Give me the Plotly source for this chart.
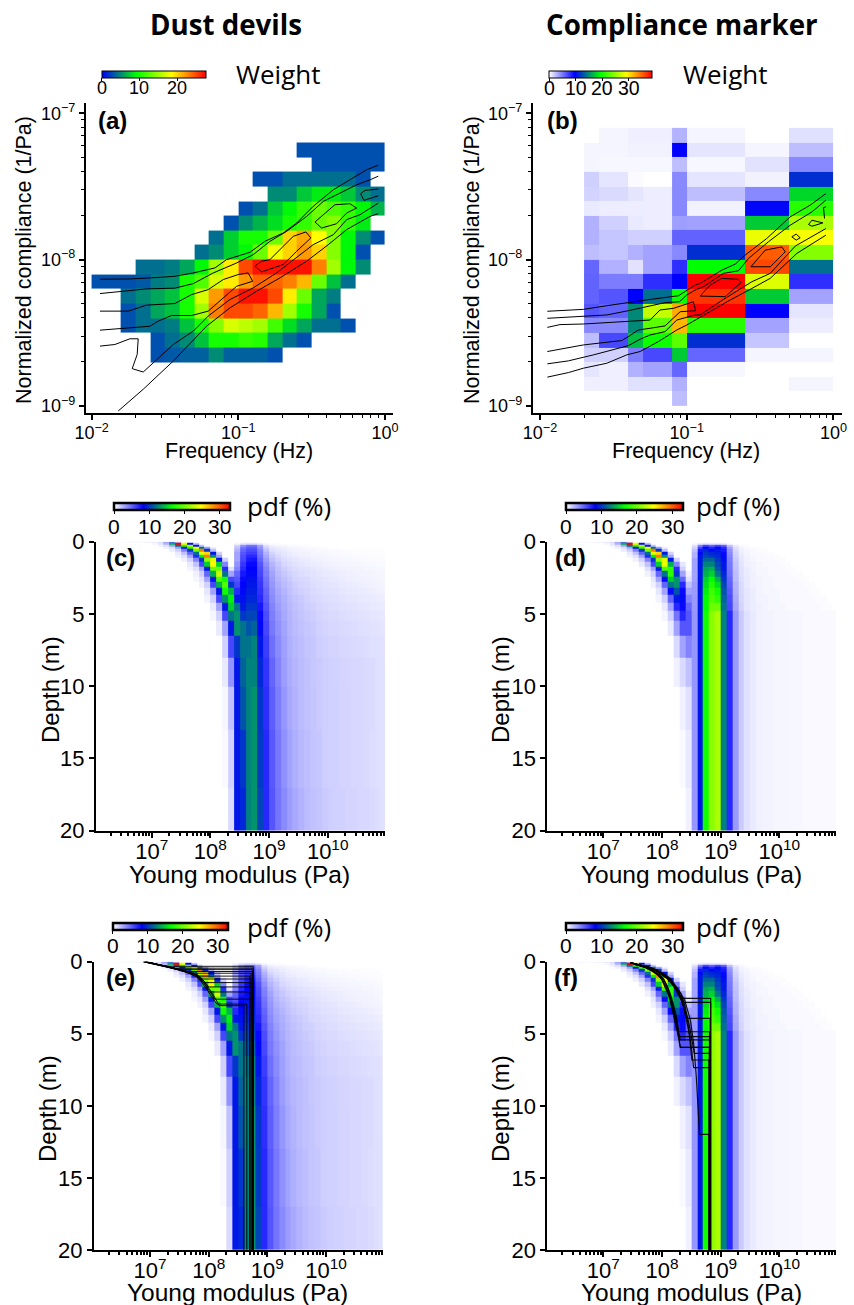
import plotly.graph_objects as go

W, H = 854, 1305

# ---------- panel (a): weights ----------
A_FREQ_LOG = [-2.0,-1.9,-1.8,-1.7,-1.6,-1.5,-1.4,-1.3,-1.2,-1.1,-1.0,-0.9,-0.8,-0.7,-0.6,-0.5,-0.4,-0.3,-0.2,-0.1,0.0]
A_COMP_LOG = [-7.2,-7.3,-7.4,-7.5,-7.6,-7.7,-7.8,-7.9,-8.0,-8.1,-8.2,-8.3,-8.4,-8.5,-8.6,-8.7]
A_ROWS = [
 (14,[2.9,2.9,2.9,2.9,2.9,2.9]),
 (15,[2.9,2.9,2.9,2.9,2.9]),
 (11,[2.9,2.9,4,4,4,4,4,2.9]),
 (12,[5,5,7.2,8.5,8.5,7.2,5,4]),
 (10,[2.9,4,7.2,9,11,13,12,11,9,6.5]),
 (9,[2.9,5,6.5,8,10,11,13,14,11,8.5]),
 (8,[4,7.5,10,10,13,20,21.5,18.4,14,9,5,2.9]),
 (7,[4,5,7.5,9,13,18,20,22,20,14,9,2.9]),
 (3,[4,4,4.5,6,9,15,19,25,27,27,27,27,23,15,9,5]),
 (0,[2.9,2.9,2.9,3.2,4.5,5,10,12,17,19,22,24,24,23,21,13,7,4]),
 (2,[4,5,6,7,10,17,22,25,27,27,25,19,13,6,4.5]),
 (2,[2.9,4,6,7,10,15,23,25,25,24,21,15,10,6,2.9]),
 (2,[2.9,4,4,4.5,7,10,14,17,16,15,11.5,8,6,4,4,2.9]),
 (4,[2.9,4,5,7,10,10,11,10.5,6,4,2.9]),
 (4,[2.9,3.2,3.5,3.5,5,3.5,3.5,3.5,2.9]),
]
A_CONTOURS = [
 ([-1.943,-1.739,-1.602,-1.432,-1.307,-1.159,-1.08,-0.92,-0.818,-0.693,-0.602,-0.489,-0.352,-0.205,-0.125,-0.045],
  [-8.134,-8.132,-8.125,-8.114,-8.091,-8.057,-8.0,-7.95,-7.875,-7.818,-7.75,-7.636,-7.523,-7.436,-7.386,-7.355]),
 ([-1.943,-1.784,-1.625,-1.432,-1.307,-1.17,-1.011,-0.898,-0.784,-0.67,-0.534,-0.42,-0.33,-0.193,-0.102,-0.045],
  [-8.232,-8.216,-8.2,-8.195,-8.164,-8.091,-8.023,-7.966,-7.875,-7.807,-7.705,-7.602,-7.557,-7.489,-7.455,-7.43]),
 ([-1.943,-1.75,-1.625,-1.432,-1.318,-1.205,-1.102,-1.0,-0.932,-0.902,-1.011,-1.091,-1.205,-1.318,-1.455,-1.545,-1.602,-1.739,-1.943],
  [-8.352,-8.352,-8.311,-8.3,-8.239,-8.205,-8.136,-8.102,-8.091,-8.148,-8.182,-8.25,-8.352,-8.382,-8.382,-8.42,-8.455,-8.466,-8.482]),
 ([-0.886,-0.841,-0.784,-0.693,-0.625,-0.539,-0.505,-0.602,-0.693,-0.841,-0.886],
  [-8.045,-8.011,-8.0,-7.909,-7.841,-7.811,-7.852,-7.943,-8.034,-8.084,-8.045]),
 ([-0.477,-0.341,-0.239,-0.193,-0.261,-0.33,-0.432,-0.477],
  [-7.743,-7.625,-7.618,-7.648,-7.682,-7.755,-7.784,-7.743]),
 ([-0.045,-0.136,-0.166,-0.143,-0.045],
  [-7.518,-7.527,-7.55,-7.595,-7.564]),
 ([-1.943,-1.841,-1.739,-1.682,-1.689,-1.723,-1.648,-1.443,-1.307,-1.205,-1.057,-0.898,-0.739,-0.625,-0.489,-0.352,-0.261,-0.17,-0.045],
  [-8.591,-8.58,-8.541,-8.541,-8.648,-8.745,-8.768,-8.58,-8.489,-8.386,-8.273,-8.193,-8.091,-8.0,-7.898,-7.83,-7.727,-7.693,-7.614]),
 ([-1.818,-1.648,-1.443,-1.216,-1.057,-0.875,-0.716,-0.534,-0.386,-0.261,-0.102,-0.045],
  [-9.034,-8.886,-8.693,-8.455,-8.33,-8.216,-8.125,-8.011,-7.898,-7.795,-7.705,-7.686]),
]

# ---------- panel (b): weights ----------
B_FREQ_LOG = [-1.7,-1.6,-1.4,-1.3,-1.1,-1.0,-0.6,-0.3,0.0]
B_COMP_LOG = [-7.1,-7.2,-7.3,-7.4,-7.5,-7.6,-7.7,-7.8,-7.9,-8.0,-8.1,-8.2,-8.3,-8.4,-8.5,-8.6,-8.7,-8.8,-8.9,-9.0]
B_VALUES = [
 [0,.4,.6,.6,2.9,.4,0,1.2],
 [.4,.4,.5,.5,9.75,1.0,.4,2.5],
 [.4,.3,.3,.3,2.5,.3,1.1,4.5],
 [1.8,1.0,.2,0,4.5,1,.5,11.5],
 [1.7,1.4,1.0,.7,4.5,2.5,4.5,18],
 [.8,.7,.7,.7,4.6,.5,10,21],
 [3,1.8,.8,.7,3.7,3.6,17.5,26],
 [3,2.2,1.8,1.8,6,6,28.5,29],
 [2.5,2.2,3,3.5,4.5,11.5,35.5,24.5],
 [5.9,3,1.1,3.5,8,19.5,36.3,14],
 [6,5,5,8,9.75,39,28,8],
 [6,6.5,9.75,14,20,37,17.5,3.5],
 [6.5,6,15,27,32.5,39,9.75,1],
 [4.5,4.5,15,23,32,21,3.5,.7],
 [2.5,7,17,20,23,11.5,2.2,0],
 [1.8,1.8,5,7,17.5,5.9,.4,.4],
 [1,.6,3,3.5,5.9,.3,0,0],
 [.6,.6,1.2,1.2,3,0,0,.4],
 [0,0,0,0,2.5,0,0,0],
]
B_CONTOURS = [
 ([-1.95,-1.807,-1.705,-1.545,-1.398,-1.25,-1.057,-1.0,-0.943,-0.909,-0.761,-0.67,-0.602,-0.455,-0.295,-0.159,-0.052],
  [-8.353,-8.344,-8.34,-8.315,-8.292,-8.272,-8.247,-8.208,-8.174,-8.163,-8.072,-8.031,-7.969,-7.856,-7.708,-7.628,-7.549]),
 ([-1.95,-1.705,-1.545,-1.398,-1.25,-1.148,-1.05,-1.0,-0.943,-0.886,-0.75,-0.647,-0.579,-0.443,-0.295,-0.147,-0.052],
  [-8.401,-8.39,-8.378,-8.349,-8.315,-8.294,-8.288,-8.242,-8.208,-8.185,-8.094,-8.076,-7.992,-7.878,-7.765,-7.674,-7.594]),
 ([-1.95,-1.864,-1.705,-1.545,-1.386,-1.25,-1.182,-1.091,-0.955,-0.939,-1.045,-1.102,-1.148,-1.25,-1.33,-1.398,-1.443,-1.705,-1.95],
  [-8.463,-8.444,-8.44,-8.431,-8.424,-8.413,-8.344,-8.333,-8.288,-8.349,-8.356,-8.413,-8.453,-8.469,-8.481,-8.526,-8.553,-8.583,-8.628]),
 ([-0.909,-0.84,-0.761,-0.647,-0.631,-0.738,-0.909],[-8.249,-8.174,-8.128,-8.135,-8.158,-8.253,-8.249]),
 ([-0.563,-0.465,-0.352,-0.329,-0.431,-0.563],[-8.049,-7.935,-7.913,-7.947,-8.049,-8.049]),
 ([-0.284,-0.254,-0.227,-0.254,-0.284],[-7.844,-7.826,-7.851,-7.867,-7.844]),
 ([-0.17,-0.147,-0.072,-0.147,-0.17],[-7.76,-7.731,-7.749,-7.772,-7.76]),
 ([-0.052,-0.068,-0.061],[-7.64,-7.644,-7.719]),
 ([-1.95,-1.807,-1.636,-1.545,-1.398,-1.318,-1.25,-1.148,-1.068,-0.943,-0.909,-0.75,-0.556,-0.431,-0.261,-0.052],
  [-8.712,-8.692,-8.651,-8.628,-8.588,-8.544,-8.515,-8.492,-8.413,-8.378,-8.378,-8.272,-8.151,-8.094,-7.908,-7.788]),
 ([-1.95,-1.807,-1.705,-1.545,-1.409,-1.318,-1.193,-1.068,-1.0,-0.909,-0.704,-0.556,-0.431,-0.25,-0.052],
  [-8.803,-8.772,-8.742,-8.708,-8.651,-8.628,-8.56,-8.481,-8.447,-8.394,-8.276,-8.197,-8.128,-7.958,-7.833]),
]

# ---------- panels (c)-(f): pdf, columns are 0.1 decade bins from 10^6 ----------
PDF_E_LOG = [6.0,6.1,6.2,6.3,6.4,6.5,6.6,6.7,6.8,6.9,7.0,7.1,7.2,7.3,7.4,7.5,7.6,7.7,7.8,7.9,8.0,8.1,8.2,8.3,8.4,8.5,8.6,8.7,8.8,8.9,
             9.0,9.1,9.2,9.3,9.4,9.5,9.6,9.7,9.8,9.9,10.0,10.1,10.2,10.3,10.4,10.5,10.6,10.7,10.8,10.9,11.0]
PDF_DEPTH = [0,.1,.2,.35,.5,.7,.9,1.1,1.4,1.7,2,2.4,2.8,3.2,3.7,4.2,4.8,5.5,6.5,8,10,13,17,20]

RIDGE_C = [
 (4,[.2,.2,.3,.3,.4,.5,.7,1.2,3,5,2]),
 (10,[.3,.8,2.5,14,33,25,8,2]),
 (11,[.5,1,3,12,18,22,9,2]),
 (12,[.5,1,3,9,18,25,12,3,.5]),
 (13,[.6,1.5,4,10,20,29,10,2]),
 (14,[.7,2,5,12,24,26,9,1.5]),
 (14,[.4,1,3,7,16,29,13,3]),
 (15,[.5,1.5,4,10,21,24,9,1.5]),
 (16,[.7,2,6,15,25,15,4]),
 (16,[.4,1,3,9,20,20,7,1]),
 (17,[.5,1.5,5,14,23,12,3]),
 (17,[.3,.8,3,9,19,17,6,2]),
 (18,[.5,1.5,6,14,19,10,3]),
 (19,[.8,3,9,17,14,6]),
 (19,[.4,1.5,6,13,16,9]),
 (20,[.7,3,9,15,12]),
 (20,[.3,1.5,6,12,13,10]),
 (21,[.7,3,9,13,12]),
 (22,[1.5,6,10,12]),
 (22,[.7,3.5,9,11.5]),
 (22,[.3,2,9,11]),
 (22,[.2,1.5,9,10]),
 (23,[1.2,9,9.5]),
]
BAND_C = [  # from column 24
 [],
 [.3,.8,1,1,.6,.3,.1,.1],
 [1.5,3.5,4.5,4.5,3,1,.5,.3,.3,.2,.2,.1,.1],
 [2,4.5,5.3,5.3,3.5,1.5,.8,.6,.5,.4,.3,.3,.2,.2,.1,.1],
 [2.5,5,5.8,5.8,4,2,1,.8,.6,.5,.4,.35,.3,.25,.2,.2,.15,.15,.1,.1,.1,.1,.05,.05,.05,.05],
 [3,5.5,6.3,6.3,4.3,2.5,1.4,1,.8,.6,.5,.45,.4,.3,.3,.25,.2,.2,.15,.15,.1,.1,.1,.1,.1,.05],
 [3,5.8,7,7,4.6,2.8,1.7,1.2,.9,.7,.6,.5,.45,.4,.35,.3,.25,.25,.2,.2,.15,.15,.1,.1,.1,.1],
 [3,6,7.4,7.6,5,3.2,2,1.5,1.1,.9,.8,.7,.6,.5,.45,.4,.35,.3,.3,.25,.25,.2,.2,.15,.15,.1],
 [3.5,6.5,8,8,5.5,3.6,2.4,1.8,1.3,1.1,.9,.8,.7,.6,.55,.5,.45,.4,.35,.35,.3,.3,.25,.25,.2,.2],
 [4,7,8.3,8.3,5.8,4,2.7,2,1.6,1.3,1.1,1,.9,.8,.7,.6,.55,.5,.45,.4,.4,.35,.3,.3,.25,.25],
 [5,7.5,8.5,8.5,6,4.2,3,2.2,1.8,1.5,1.3,1.1,1,.9,.8,.7,.65,.6,.55,.5,.45,.4,.4,.35,.3,.3],
 [5.5,8,8.8,8.8,6.3,4.5,3.2,2.4,2,1.7,1.4,1.3,1.2,1,.9,.8,.75,.7,.6,.55,.5,.45,.45,.4,.35,.3],
 [6,8.3,9,9,6.5,4.7,3.4,2.6,2.2,1.9,1.6,1.4,1.3,1.1,1,.9,.85,.8,.7,.65,.6,.55,.5,.45,.4,.35],
 [7,8.5,9.2,9.2,6.7,5,3.6,2.8,2.4,2,1.7,1.5,1.4,1.2,1.1,1,.95,.9,.8,.75,.7,.65,.6,.55,.5,.45],
 [8,8.8,9.5,9.5,7,5.2,3.8,3,2.6,2.2,1.9,1.7,1.5,1.3,1.2,1.1,1.05,1,.9,.85,.8,.75,.7,.65,.6,.55],
 [9,9,10,10,7.5,5.5,4,3.2,2.7,2.3,2,1.8,1.6,1.5,1.3,1.2,1.1,1.1,1,.95,.9,.85,.8,.75,.7,.65],
 [9,9.5,10.5,10.5,8,5.8,4.2,3.4,2.8,2.4,2.1,1.9,1.7,1.6,1.4,1.3,1.2,1.2,1.1,1.05,1,.95,.9,.85,.8,.75],
 [9,10,11,11.5,8.5,6,4.4,3.6,3,2.5,2.2,2,1.8,1.7,1.5,1.4,1.3,1.3,1.2,1.15,1.1,1.05,1,.95,.9,.85],
 [9,10.5,12,12.5,9,6.3,4.7,3.8,3.1,2.6,2.3,2.1,1.9,1.8,1.6,1.5,1.4,1.4,1.3,1.25,1.2,1.15,1.1,1.05,1,.95],
 [9,11.5,12.5,12.5,9.5,6.6,5,4,3.2,2.7,2.4,2.2,2,1.8,1.7,1.6,1.5,1.45,1.4,1.35,1.3,1.25,1.2,1.15,1.05,1],
 [9,10,12.5,13,10,6.8,5.2,4.2,3.4,2.8,2.5,2.2,2,1.9,1.7,1.6,1.5,1.5,1.4,1.4,1.3,1.3,1.2,1.15,1.05,1],
 [9,9.8,12.5,13,10.2,7,5.4,4.4,3.6,3,2.6,2.3,2.1,1.9,1.8,1.6,1.5,1.5,1.4,1.4,1.3,1.3,1.2,1.1,1.05,1],
 [9,9.5,12.5,13,10.5,7,5.5,4.5,3.8,3.2,2.8,2.5,2.2,2,1.9,1.7,1.6,1.5,1.5,1.4,1.4,1.3,1.3,1.2,1.1,1],
]
RIDGE_D = RIDGE_C[:8] + [
 (16,[.7,2,6,15,24,14,4,.8]),
 (17,[1,3,9,19,18,7,1.5]),
 (17,[.5,1.5,5,12,18,10,3,.5]),
 (18,[.8,3,8,15,13,5,1]),
 (18,[.5,1.5,5,12,13,7,2]),
 (19,[.8,3,8,11,8,3]),
 (19,[.4,1.5,5,9,8.5,4]),
 (20,[.7,3,7,8,5]),
 (20,[.3,1.5,4.5,7,5.5,2]),
 (21,[.7,3,5.5,5.5,3]),
 (22,[1.2,3,4,3.4]),
 (22,[.5,1.2,2,3.4]),
 (23,[.5,1,3.4]),
 (23,[.2,.7,3.4]),
 (24,[.5,3.4]),
]
BAND_D = [  # from column 25
 [],
 [.2,.6,.8,.7,.7,.6,.2],
 [1,4,6,5,6,5,2,.6,.2,.1],
 [1.5,6,8.5,7,8.5,7,3,1,.4,.2,.1,.1],
 [2,7.5,9.5,8.5,9,7.5,3.5,1.2,.5,.3,.2,.1,.1],
 [2.5,8.5,10,9.5,9.3,8,3.8,1.4,.6,.4,.2,.2,.1,.1],
 [2.5,9,10.5,10,9.5,8.5,4,1.5,.7,.4,.3,.2,.2,.1,.1],
 [3,9,11.5,11.5,10,8.7,4.2,1.7,.8,.5,.3,.2,.2,.2,.1,.1],
 [3,9,12.5,12.5,10.5,9,4.4,1.9,.9,.5,.4,.3,.2,.2,.2,.1,.1],
 [3,9,13.5,14,11,9,4.5,2,1,.6,.4,.3,.3,.2,.2,.2,.1,.1],
 [3,9,14,15,12,9.5,4.7,2.1,1,.6,.5,.3,.3,.2,.2,.2,.2,.1,.1],
 [3,9,15,16.5,14,10,5,2.2,1.1,.7,.5,.4,.3,.3,.2,.2,.2,.2,.1,.1],
 [3.2,9,15.5,17.5,15.5,10.5,5.2,2.4,1.2,.7,.5,.4,.3,.3,.2,.2,.2,.2,.2,.1,.1],
 [3.2,9,16,18.5,17,11,5.5,2.5,1.2,.8,.6,.4,.3,.3,.3,.2,.2,.2,.2,.2,.1,.1],
 [3.3,9,16.5,19,18,11.5,5.8,2.7,1.3,.8,.6,.4,.4,.3,.3,.2,.2,.2,.2,.2,.2,.1,.1],
 [3.3,9,16.5,20,20,12,6,2.8,1.4,.8,.6,.5,.4,.3,.3,.3,.2,.2,.2,.2,.2,.2,.1,.1],
 [3.4,9,17,21,22,12.5,7,3.3,1.7,1,.7,.5,.4,.4,.3,.3,.3,.25,.25,.2,.2,.2,.2,.2,.2],
 [3.4,9,17,21,22,12.5,7,3.3,1.7,1,.7,.5,.4,.4,.3,.3,.3,.25,.25,.2,.2,.2,.2,.2,.2],
 [3.4,9,17,21,22,12.5,7,3.3,1.7,1,.7,.5,.4,.4,.3,.3,.3,.25,.25,.2,.2,.2,.2,.2,.2],
 [3.4,9,17,21,22,12.5,7,3.3,1.7,1,.7,.5,.4,.4,.3,.3,.3,.25,.25,.2,.2,.2,.2,.2,.2],
 [3.4,9,17,21,22,12.5,7,3.3,1.7,1,.7,.5,.4,.4,.3,.3,.3,.25,.25,.2,.2,.2,.2,.2,.2],
 [3.4,9,17,21,22,12.5,7,3.3,1.7,1,.7,.5,.4,.4,.3,.3,.3,.25,.25,.2,.2,.2,.2,.2,.2],
 [3.4,9,17,21,22,12.5,7,3.3,1.7,1,.7,.5,.4,.4,.3,.3,.3,.25,.25,.2,.2,.2,.2,.2,.2],
]

# best-fitting profiles drawn over (e)
E_NODES = [0,.12,.23,.35,.58,.75,.92,1.25,1.62,2,2.31,2.94]
E_KNEES = [.32,.45,.55,.68,.8,1.0,1.2,1.45,1.75,2.1,2.6,2.94,3.05]
E_HALF = [8.76,8.76,8.74,8.75,8.72,8.70,8.76,8.74,8.76,8.70,8.76,8.65,8.60]
E_PROFILES = [
 [6.93,7.06,7.17,7.34],
 [6.90,7.03,7.14,7.29,7.42],
 [6.92,7.06,7.16,7.32,7.5],
 [6.88,7.02,7.13,7.27,7.5,7.6],
 [6.94,7.07,7.18,7.33,7.55,7.68],
 [6.9,7.04,7.14,7.29,7.5,7.64,7.76],
 [6.92,7.06,7.17,7.32,7.54,7.68,7.79,7.88],
 [6.89,7.03,7.13,7.28,7.5,7.64,7.76,7.85,7.92],
 [6.93,7.07,7.17,7.33,7.55,7.69,7.81,7.9,7.97,8.0],
 [6.91,7.04,7.15,7.3,7.52,7.66,7.78,7.87,7.94,8.0],
 [6.92,7.06,7.16,7.31,7.53,7.67,7.79,7.88,7.95,8.01,8.06,8.1],
 [6.89,7.03,7.14,7.28,7.5,7.64,7.76,7.85,7.92,7.98,8.03,8.14],
 [6.93,7.07,7.18,7.33,7.55,7.69,7.81,7.9,7.97,8.03,8.08,8.18],
]
# best-fitting profiles drawn over (f)
F_NODES = [.07,.2,.4,.6,.9,1.2,1.7,2.2,2.7,3.2,3.7,4.2,4.7,5.2,5.7,6.2,6.7,7.2,8]
F_KNEES = [2.54,2.82,3.93,4.86,5.2,5.43,5.94,5.94,6.36,6.82,7.35,11.98]
F_HALF = [8.83,8.83,8.82,8.81,8.81,8.82,8.81,8.81,8.81,8.80,8.81,8.80]
F_PROFILES = [
 [7.47,7.58,7.76,7.88,8.0,8.1,8.22,8.34],
 [7.47,7.6,7.78,7.89,8.01,8.11,8.23,8.32,8.37],
 [7.46,7.57,7.77,7.9,8.02,8.1,8.2,8.28,8.34,8.38,8.41,8.43],
 [7.47,7.55,7.72,7.82,7.94,8,8.07,8.12,8.16,8.19,8.22,8.25,8.27,8.28],
 [7.46,7.55,7.71,7.81,7.92,7.99,8.05,8.1,8.14,8.17,8.2,8.23,8.26,8.28],
 [7.47,7.56,7.73,7.83,7.95,8.02,8.09,8.14,8.18,8.21,8.24,8.26,8.28,8.3,8.31],
 [7.47,7.56,7.72,7.82,7.93,8,8.06,8.11,8.15,8.18,8.21,8.24,8.26,8.28,8.3,8.31],
 [7.46,7.55,7.74,7.84,7.96,8.03,8.09,8.13,8.16,8.19,8.22,8.25,8.27,8.29,8.3,8.32],
 [7.48,7.62,7.8,7.92,8.05,8.13,8.21,8.29,8.36,8.4,8.43,8.46,8.48,8.5,8.52,8.54,8.55],
 [7.47,7.6,7.78,7.9,8.03,8.11,8.2,8.27,8.33,8.37,8.4,8.43,8.45,8.47,8.48,8.49,8.5,8.51],
 [7.48,7.61,7.79,7.91,8.04,8.12,8.2,8.28,8.34,8.38,8.41,8.44,8.46,8.48,8.5,8.51,8.52,8.53,8.54],
 [7.47,7.62,7.8,7.92,8.06,8.15,8.24,8.32,8.39,8.43,8.46,8.49,8.51,8.53,8.54,8.55,8.56,8.57,8.585,8.64],
]

TITLES = ["Dust devils", "Compliance marker"]
PANEL_TAGS = ["(a)", "(b)", "(c)", "(d)", "(e)", "(f)"]
# ---------- styles ----------
ARIAL = "Liberation Sans"
OPEN = "Open Sans"
BWGYR = [[0,"rgb(0,0,255)"],[1/3,"rgb(0,255,0)"],[2/3,"rgb(255,255,0)"],[1,"rgb(255,0,0)"]]
WBGYR = [[0,"rgb(255,255,255)"],[.25,"rgb(0,0,255)"],[.5,"rgb(0,255,0)"],[.75,"rgb(255,255,0)"],[1,"rgb(255,0,0)"]]


def pad(start, vals, n):
    return [None]*start + list(vals) + [None]*(n-start-len(vals))


def tens(vals):
    return [10**v for v in vals]


def pdf_matrix(ridges, bands, band_start):
    n = len(PDF_E_LOG)-1
    out = []
    for (s, r), b in zip(ridges, bands):
        rr = pad(s, r, n)
        bb = pad(band_start, b, n)
        out.append([max(p or 0, q or 0) for p, q in zip(rr, bb)])
    return out


PDF_C = pdf_matrix(RIDGE_C, BAND_C, 24)
PDF_D = pdf_matrix(RIDGE_D, BAND_D, 25)

fig = go.Figure()


def xf(px):
    return px/W


def yf(py):
    return 1-py/H


def minor_vals(lo, hi):
    return [m*10**e for e in range(lo, hi) for m in range(2, 10)]


def note(text, x, y, family, size, bold=False, anchor="left", angle=0):
    fig.add_annotation(text=f"<b>{text}</b>" if bold else text, x=xf(x), y=yf(y), xref="paper", yref="paper",
                       xanchor=anchor, yanchor="middle", showarrow=False, textangle=angle,
                       font=dict(family=family, size=size, color="black"))


def add_axes(idx, box, xrange_, yrange_, kind):
    left, right, top, bottom = box
    sfx = "" if idx == 1 else str(idx)
    lw = 1.6 if kind == "freq" else 2
    tickfont = dict(family=ARIAL, size=18 if kind == "freq" else 22, color="black")
    if kind == "freq":
        xa = dict(type="log", range=xrange_, tickvals=[.01,.1,1], ticktext=["10<sup>\u22122</sup>","10<sup>\u22121</sup>","10<sup>0</sup>"],
                  ticklabelstandoff=-2,
                  minor=dict(tickmode="array", tickvals=minor_vals(-2,0), ticks="outside", ticklen=3, tickwidth=1, tickcolor="black"))
        ya = dict(type="log", range=yrange_, tickvals=[1e-9,1e-8,1e-7], ticktext=["10<sup>\u22129</sup>","10<sup>\u22128</sup>","10<sup>\u22127</sup>"],
                  minor=dict(tickmode="array", tickvals=minor_vals(-9,-7), ticks="outside", ticklen=3, tickwidth=1, tickcolor="black"))
    else:
        xa = dict(type="log", range=xrange_, tickvals=[1e7,1e8,1e9,1e10], ticktext=["10<sup>7</sup>","10<sup>8</sup>","10<sup>9</sup>","10<sup>10</sup>"],
                  ticklabelstandoff=-5,
                  minor=dict(tickmode="array", tickvals=minor_vals(6,11), ticks="outside", ticklen=3, tickwidth=1.5, tickcolor="black"))
        ya = dict(range=yrange_, tickvals=[0,5,10,15,20])
    for ax in (xa, ya):
        ax.update(showgrid=False, zeroline=False, showline=True, linecolor="black", linewidth=lw,
                  ticks="outside", ticklen=5, tickwidth=lw, tickcolor="black", tickfont=tickfont,
                  automargin=False, mirror=False)
    xa.update(domain=[xf(left), xf(right)], anchor="y"+sfx)
    ya.update(domain=[yf(bottom), yf(top)], anchor="x"+sfx)
    fig.update_layout({"xaxis"+sfx: xa, "yaxis"+sfx: ya})
    return "x"+sfx, "y"+sfx


def cbar(left, right, top, ticks, zmax, size, lw, label_y):
    for t in ticks:
        note(str(t), left+(right-left)*t/zmax, label_y, ARIAL, size, anchor="center")
    return dict(orientation="h", x=xf(left), xanchor="left", y=yf(top), yanchor="top",
                len=right-left, lenmode="pixels", thickness=7, xpad=0, ypad=0,
                tickvals=ticks, ticks="outside", ticklen=3, tickwidth=1.2, tickcolor="black",
                showticklabels=False,
                outlinecolor="black", outlinewidth=lw, borderwidth=0)


# panel a
xa, ya = add_axes(1, (85.7,393,103,413), [-2.04,0.055], [-9.048,-6.93], "freq")
n_a = len(A_FREQ_LOG)-1
fig.add_trace(go.Heatmap(x=tens(A_FREQ_LOG), y=tens(A_COMP_LOG), z=[pad(s,v,n_a) for s,v in A_ROWS],
                         colorscale=BWGYR, zmin=0, zmax=27.6, xaxis=xa, yaxis=ya, hoverinfo="skip",
                         colorbar=cbar(101.7,205.7,70.7,[0,10,20],27.6,18,1,88)))
for cx, cy in A_CONTOURS:
    fig.add_trace(go.Scatter(x=tens(cx), y=tens(cy), mode="lines", line=dict(color="black", width=1),
                             xaxis=xa, yaxis=ya, showlegend=False, hoverinfo="skip"))
# panel b
xb, yb = add_axes(2, (532.7,841.7,103,413), [-2.05,0.056], [-9.048,-6.93], "freq")
fig.add_trace(go.Heatmap(x=tens(B_FREQ_LOG), y=tens(B_COMP_LOG), z=B_VALUES,
                         colorscale=WBGYR, zmin=0, zmax=39, xaxis=xb, yaxis=yb, hoverinfo="skip",
                         colorbar=cbar(549.3,652.7,70.7,[0,10,20,30],39,19.5,1,88)))
for cx, cy in B_CONTOURS:
    fig.add_trace(go.Scatter(x=tens(cx), y=tens(cy), mode="lines", line=dict(color="black", width=1),
                             xaxis=xb, yaxis=yb, showlegend=False, hoverinfo="skip"))

# panels c-f
PDF_PANELS = [
 (3,(96,385,541.7,830.7),[6.05,10.977],PDF_C,(114.3,230,503.5,526)),
 (4,(547.3,836,541.7,830.7),[6.045,10.966],PDF_D,(566,682.7,503.5,526)),
 (5,(94,382.7,961.7,1250),[6.045,10.966],PDF_C,(112.7,228,922.7,945)),
 (6,(547.3,836,961.7,1250),[6.045,10.966],PDF_D,(566,682.7,922.7,945)),
]
for idx, box, xr, z, (l, r, t, ly) in PDF_PANELS:
    xx, yy = add_axes(idx, box, xr, [20,0], "pdf")
    fig.add_trace(go.Heatmap(x=tens(PDF_E_LOG), y=PDF_DEPTH, z=z, colorscale=WBGYR, zmin=0, zmax=33,
                             xaxis=xx, yaxis=yy, hoverinfo="skip",
                             colorbar=cbar(l,r,t,[0,10,20,30],33,21,2.5,ly)))
    if idx == 5:
        nodes, knees, halves, profiles, lw = E_NODES, E_KNEES, E_HALF, E_PROFILES, 1
    elif idx == 6:
        nodes, knees, halves, profiles, lw = F_NODES, F_KNEES, F_HALF, F_PROFILES, 1.2
    else:
        continue
    for knee, half, prof in zip(knees, halves, profiles):
        xs = prof + [half, half]
        ys = nodes[:len(prof)-1] + [knee, knee, 20]
        fig.add_trace(go.Scatter(x=tens(xs), y=ys, mode="lines", line=dict(color="rgba(0,0,0,0.9)", width=lw),
                                 xaxis=xx, yaxis=yy, showlegend=False, hoverinfo="skip"))


note(TITLES[0], 226, 24, OPEN, 27.7, True, "center")
note(TITLES[1], 682, 24, OPEN, 27.7, True, "center")
note("Weight", 234, 74, OPEN, 26)
note("Weight", 681, 74, OPEN, 26)
note("pdf (%)", 245, 506, OPEN, 26)
note("pdf (%)", 694, 506, OPEN, 26)
note("pdf (%)", 245, 927, OPEN, 26)
note("pdf (%)", 694, 927, OPEN, 26)
for tag, (x, y) in zip(PANEL_TAGS, [(96,120),(545,120),(104,557),(553,557),(104,977),(552,977)]):
    note(tag, x, y, ARIAL, 24, True)
# axis titles
for x, yc in [(24,260),(472,260)]:
    note("Normalized compliance (1/Pa)", x, yc, ARIAL, 21.5, anchor="center", angle=-90)
for x in (239, 686):
    note("Frequency (Hz)", x, 451, ARIAL, 21.5, anchor="center")
for x, yc in [(50,690),(500,690),(47,1109),(500,1109)]:
    note("Depth (m)", x, yc, ARIAL, 24, anchor="center", angle=-90)
for x, yc in [(239.5,874),(691,874),(238,1292),(691,1292)]:
    note("Young modulus (Pa)", x, yc, ARIAL, 24.5, anchor="center")

fig.update_layout(width=W, height=H, autosize=False, paper_bgcolor="white", plot_bgcolor="white",
                  margin=dict(l=0, r=0, t=0, b=0, autoexpand=False), showlegend=False)
fig.write_html("out.html", config=dict(displayModeBar=False), post_script="document.body.style.margin='0';")
